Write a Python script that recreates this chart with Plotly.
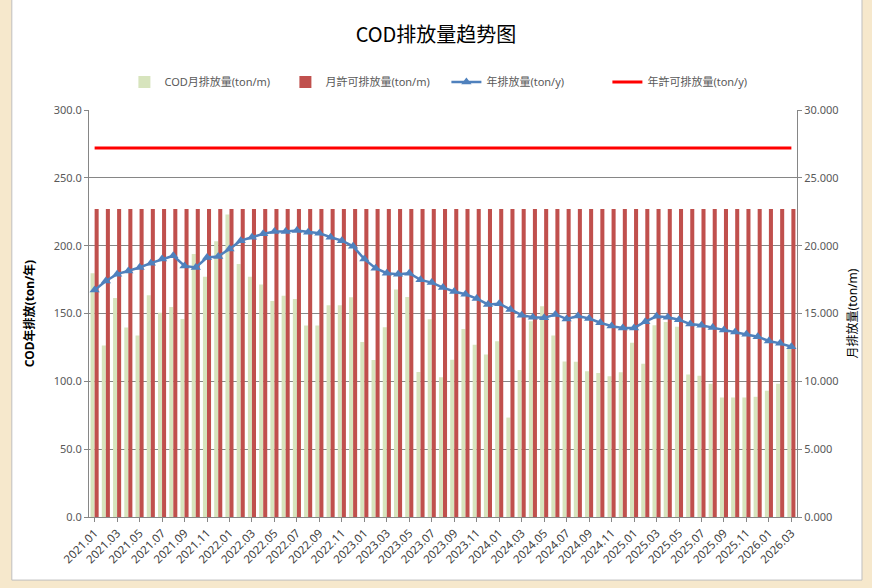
import plotly.graph_objects as go

months = []
for y in range(2021, 2027):
    for m in range(1, 13):
        if y == 2026 and m > 3:
            break
        months.append(f"{y}.{m:02d}")

cod_monthly = [17.97, 12.65, 16.14, 13.96, 13.37, 16.34, 15.05, 15.47, 14.6, 19.38,
               17.7, 20.32, 22.3, 18.64, 17.7, 17.13, 15.92, 16.31, 16.06, 14.11,
               14.11, 15.6, 15.6, 16.2, 12.9, 11.58, 13.99, 16.76, 16.21, 10.69,
               14.58, 10.3, 11.6, 13.86, 12.7, 11.98, 12.95, 7.33, 10.84, 14.43,
               15.54, 13.37, 11.46, 11.44, 10.74, 10.62, 10.37, 10.67, 12.85, 11.29,
               14.13, 14.38, 14.03, 10.5, 10.42, 9.83, 8.81, 8.81, 8.81, 8.86,
               9.31, 9.83, 12.4]
permit_monthly = [22.7] * len(months)
annual = [167.3, 174, 179, 181.4, 183.9, 187.1, 190.1, 192.6, 185.1, 183.9,
          191.3, 192.1, 197.5, 203.7, 206.2, 208.7, 210.4, 210.4, 211.1, 209.9,
          209.2, 206.2, 203.7, 199.5, 190.1, 183.4, 179.7, 179, 179.7, 174.8,
          172.8, 169.1, 166.2, 164.2, 161, 156.7, 157.2, 153, 148.8, 147.3,
          146.8, 149.3, 146, 148.2, 146.3, 143.2, 140.7, 139.4, 139.4, 144,
          147.9, 147.2, 145.4, 142.2, 141.3, 139.6, 137.9, 136.4, 134.7, 132.9,
          129.7, 128, 125.5]
permit_annual = [272] * len(months)

left_ticks = [0, 50, 100, 150, 200, 250, 300]
right_ticks = [0, 5, 10, 15, 20, 25, 30]

FONT = "Noto Sans, Noto Sans CJK TC, sans-serif"
GRAY = "#595959"

fig = go.Figure()
fig.add_trace(go.Bar(x=months, y=cod_monthly, name="COD月排放量(ton/m)",
                     marker=dict(color="#d7e4bd", line=dict(width=0)), yaxis="y"))
fig.add_trace(go.Bar(x=months, y=permit_monthly, name="月許可排放量(ton/m)",
                     marker=dict(color="#c0504d", line=dict(width=0)), yaxis="y"))
fig.add_trace(go.Scatter(x=months, y=annual, name="年排放量(ton/y)", mode="lines+markers",
                         line=dict(color="#4f81bd", width=2.5),
                         marker=dict(symbol="triangle-up", size=9, color="#4f81bd"),
                         yaxis="y2"))
fig.add_trace(go.Scatter(x=months, y=permit_annual, name="年許可排放量(ton/y)", mode="lines",
                         line=dict(color="#ff0000", width=3), yaxis="y2"))

fig.update_layout(
    width=872, height=588,
    margin=dict(l=89, r=75, t=110, b=71, autoexpand=False),
    paper_bgcolor="#f6e8cc",
    plot_bgcolor="white",
    font=dict(family=FONT, size=11, color=GRAY),
    barmode="group", bargap=0.28, bargroupgap=0.0,
    title=dict(text="COD排放量趋势图", x=0.5, xanchor="center", y=0.94, yanchor="middle",
               font=dict(family="Noto Sans CJK SC", size=20, color="#000000")),
    legend=dict(orientation="h", x=0.05, xanchor="left", y=1.069, yanchor="middle",
                font=dict(size=11, color=GRAY), bgcolor="rgba(0,0,0,0)",
                traceorder="normal", itemwidth=30, entrywidth=116, entrywidthmode="pixels"),
    xaxis=dict(type="category", range=[-0.5, len(months) - 0.5], autorange=False,
               tickmode="array", tickvals=months[::2], ticktext=months[::2],
               tickangle=-45, tickfont=dict(size=11.5, color="#404040"),
               showline=True, linecolor="#868686", linewidth=1, automargin=False,
               ticks="outside", ticklen=4, tickcolor="#868686", showgrid=False),
    yaxis=dict(side="right", range=[0, 30], tickvals=right_ticks, tickformat=".3f",
               showgrid=True, gridcolor="#868686", gridwidth=1, automargin=False,
               showline=True, linecolor="#868686", ticks="outside", ticklen=4, tickcolor="#868686",
               title=dict(text="月排放量(ton/m)", font=dict(size=12, color="#000000"), standoff=10),
               zeroline=False),
    yaxis2=dict(side="left", overlaying="y", range=[0, 300], tickvals=left_ticks, tickformat=".1f",
                showgrid=False, showline=True, linecolor="#868686", ticks="outside", ticklen=4,
                tickcolor="#868686", automargin=False,
                title=dict(text="<b>COD年排放(ton/年)</b>", font=dict(size=12, color="#000000"), standoff=16),
                zeroline=False),
    shapes=[dict(type="rect", xref="paper", yref="paper", x0=-0.109, x1=1.0918, y0=-0.155, y1=1.3,
                 fillcolor="white", line=dict(color="#bfbfbf", width=1), layer="below")],
)

fig.write_html("out.html", config={"displayModeBar": False},
               post_script="document.body.style.margin='0px';document.body.style.overflow='hidden';")
